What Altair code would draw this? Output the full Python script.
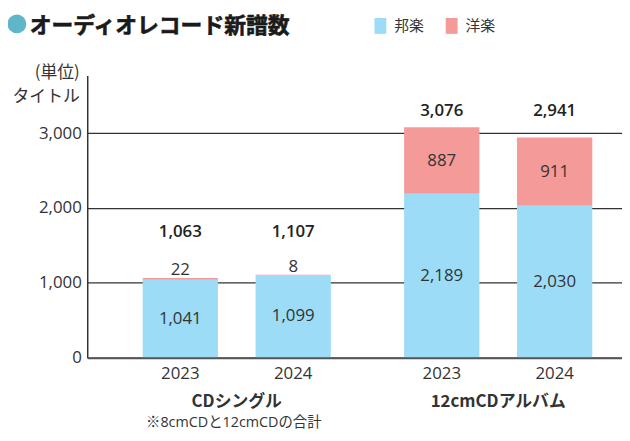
import altair as alt
import pandas as pd

# ---- data ----
groups = ["CDシングル", "12cmCDアルバム"]
years = ["2023", "2024"]
domestic = [1041, 1099, 2189, 2030]   # 邦楽
foreign = [22, 8, 887, 911]           # 洋楽
totals = [1063, 1107, 3076, 2941]
genres = ["邦楽", "洋楽"]
colors = ["#9ddcf6", "#f49a98"]
title_text = "オーディオレコード新譜数"
note_text = "※8cmCDと12cmCDの合計"
y_ticks = [0, 1000, 2000, 3000]

FONT = '"Open Sans", "Noto Sans CJK JP", sans-serif'
JP = '"Noto Sans CJK JP", sans-serif'
TXT = "#333333"

rows_g = [g for g in groups for _ in years]
rows_y = years * len(groups)

wide = pd.DataFrame({
    "group": rows_g, "year": rows_y,
    "domestic": domestic, "foreign": foreign, "total": totals,
})
long = pd.DataFrame({
    "group": rows_g * 2,
    "year": rows_y * 2,
    "genre": [genres[0]] * 4 + [genres[1]] * 4,
    "value": domestic + foreign,
    "ord": [0] * 4 + [1] * 4,
})

x_enc = alt.X("group:N", sort=groups,
              scale=alt.Scale(paddingInner=36 / 264, paddingOuter=48 / 528, align=37 / 48),
              axis=alt.Axis(title=None, ticks=False, labelPadding=36, labelFontSize=17,
                            labelAngle=0, labelFontWeight="bold", labelColor=TXT, labelFont=JP,
                            domainColor="#555555", domainWidth=2, zindex=1))
xo_enc = alt.XOffset("year:N", sort=years,
                     scale=alt.Scale(paddingInner=1 / 3, paddingOuter=1 / 6))
y_scale = alt.Scale(domain=[0, 3770], nice=False)

bars = alt.Chart(long).mark_bar().encode(
    x=x_enc,
    xOffset=xo_enc,
    y=alt.Y("value:Q", stack="zero", scale=y_scale,
            axis=alt.Axis(values=y_ticks, labelExpr="format(datum.value, ',')",
                          ticks=False, labelPadding=6,
                          labelFontSize=17, labelColor=TXT, labelFont=FONT,
                          domainColor="#333333", domainWidth=1.5,
                          gridColor="#333333", gridWidth=1.3,
                          title=["(単位)", "タイトル"], titleAngle=0, titleAlign="right",
                          titleBaseline="top", titleX=-8, titleY=-11, titleFontSize=17,
                          titleFontWeight="normal", titleColor=TXT, titleFont=JP,
                          titleLineHeight=24)),
    color=alt.Color("genre:N", sort=genres,
                    scale=alt.Scale(domain=genres, range=colors),
                    legend=alt.Legend(orient="none", legendX=288, legendY=-58,
                                      direction="horizontal", title=None,
                                      symbolType="M-0.75,-1H0.75V1H-0.75Z", symbolSize=256,
                                      symbolStrokeWidth=0, labelFontSize=15, labelFont=JP,
                                      labelColor=TXT, labelOffset=6, columnPadding=19,
                                      padding=0)),
    order=alt.Order("ord:Q"),
)

base = alt.Chart(wide).encode(x=alt.X("group:N", sort=groups), xOffset=alt.XOffset("year:N", sort=years))

dom_lbl = base.transform_calculate(mid="datum.domestic / 2").mark_text(
    fontSize=17, font=FONT, color=TXT, baseline="middle").encode(
    y=alt.Y("mid:Q", scale=y_scale), text=alt.Text("domestic:Q", format=","))

for_big = base.transform_filter("datum.foreign >= 100").transform_calculate(
    mid="datum.domestic + datum.foreign / 2").mark_text(
    fontSize=17, font=FONT, color=TXT, baseline="middle").encode(
    y=alt.Y("mid:Q", scale=y_scale), text=alt.Text("foreign:Q", format=","))

for_small = base.transform_filter("datum.foreign < 100").mark_text(
    fontSize=17, font=FONT, color=TXT, baseline="bottom", dy=1).encode(
    y=alt.Y("total:Q", scale=y_scale), text=alt.Text("foreign:Q", format=","))

tot_small = base.transform_filter("datum.foreign < 100").transform_joinaggregate(
    gmax="max(total)", groupby=["group"]).mark_text(
    fontSize=17, font=FONT, color="#222222", fontWeight=600, baseline="middle", dy=-43).encode(
    y=alt.Y("gmax:Q", scale=y_scale), text=alt.Text("total:Q", format=","))

tot_big = base.transform_filter("datum.foreign >= 100").transform_joinaggregate(
    gmax="max(total)", groupby=["group"]).mark_text(
    fontSize=17, font=FONT, color="#222222", fontWeight=600, baseline="middle", dy=-16).encode(
    y=alt.Y("gmax:Q", scale=y_scale), text=alt.Text("total:Q", format=","))

year_lbl = base.mark_text(fontSize=17, font=FONT, color=TXT, baseline="top", dy=9).encode(
    y=alt.datum(0), text="year:N")

note = alt.Chart(pd.DataFrame({"group": [groups[0]], "t": [note_text]})).mark_text(
    fontSize=14.5, font=FONT, color=TXT, baseline="top", dy=59, dx=-3).encode(
    x=alt.X("group:N", sort=groups), y=alt.datum(0), text="t:N")

title = alt.Chart(pd.DataFrame({"t": [title_text]})).mark_text(
    fontSize=22, font=JP, fontWeight="bold", color="#1a1a1a", align="left",
    baseline="middle", stroke="#1a1a1a", strokeWidth=0.6).encode(
    x=alt.value(-58), y=alt.value(-50), text="t:N")

dot = alt.Chart(pd.DataFrame({"t": [0]})).mark_circle(
    size=360, color="#5fb5c9", opacity=1).encode(x=alt.value(-71), y=alt.value(-52))

chart = alt.layer(bars, dom_lbl, for_big, for_small, tot_small, tot_big, year_lbl, note,
                  title, dot).properties(
    width=540, height=285,
    autosize=alt.AutoSizeParams(type="none"),
    padding={"left": 80, "top": 66, "right": 0, "bottom": 74},
).configure_view(stroke=None)

chart.save("out.html", embed_options={"renderer": "svg", "actions": False})
